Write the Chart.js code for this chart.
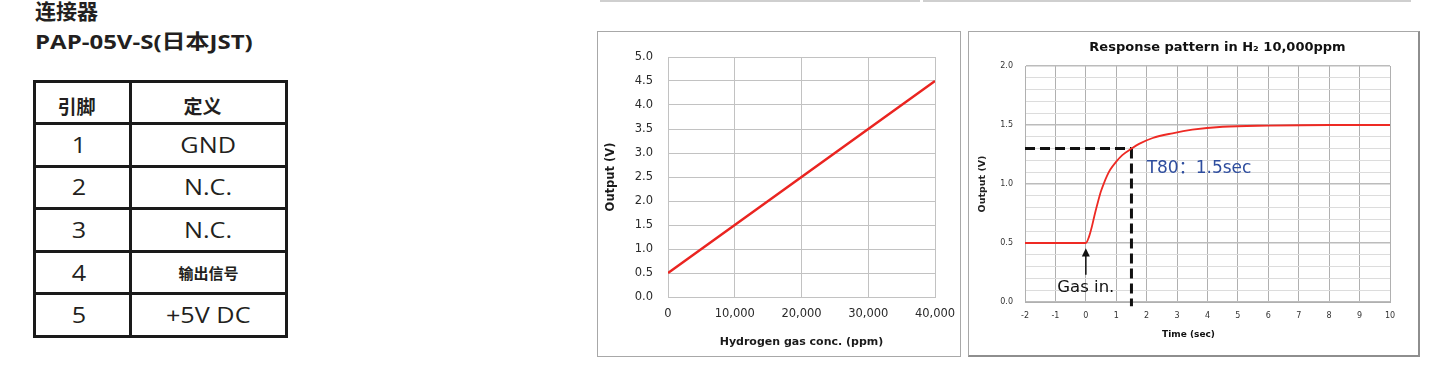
<!DOCTYPE html>
<html>
<head>
<meta charset="utf-8">
<script src="https://cdn.jsdelivr.net/npm/chart.js@4"></script>
<style>
body { margin:0; width:1434px; height:367px; background:#fff; position:relative; overflow:hidden;
       font-family:"Open Sans","Noto Sans CJK SC",sans-serif; color:#231f20; }
.abs { position:absolute; }
.head { left:35px; font-size:21px; font-weight:bold; line-height:26px; white-space:nowrap; transform-origin:0 50%; }
table.pins { position:absolute; left:33px; top:80px; border-collapse:collapse; table-layout:fixed; }
.pins td { border:3px solid #1a1a1a; text-align:center; height:39.6px; padding:0; font-size:21px; line-height:24px; }
.pins tr.top td { font-weight:bold; font-size:19px; padding-top:6px; height:33px; font-family:"Noto Sans CJK SC"; }
.pins td.small { font-weight:bold; font-size:15px; font-family:"Noto Sans CJK SC"; }
.wide { display:inline-block; transform:scaleX(1.2); }
.box { position:absolute; border:1px solid #a8a8a8; background:#fff; }
canvas { position:absolute; }
</style>
</head>
<body>
<div class="abs head" style="top:-3px;font-family:'Noto Sans CJK SC'">连接器</div>
<div class="abs head" style="top:29px;font-size:20px;transform:scaleX(1.2)">PAP-05V-S(日本JST)</div>

<table class="pins">
  <col style="width:96px"><col style="width:156px">
  <tr class="top"><td style="padding-right:12px">引脚</td><td style="padding-right:12px">定义</td></tr>
  <tr><td style="padding-right:6px"><span class="wide">1</span></td><td><span class="wide">GND</span></td></tr>
  <tr><td style="padding-right:6px"><span class="wide">2</span></td><td><span class="wide">N.C.</span></td></tr>
  <tr><td style="padding-right:6px"><span class="wide">3</span></td><td><span class="wide">N.C.</span></td></tr>
  <tr><td style="padding-right:6px"><span class="wide">4</span></td><td class="small">输出信号</td></tr>
  <tr><td style="padding-right:6px"><span class="wide">5</span></td><td><span class="wide">+5V DC</span></td></tr>
</table>

<div class="abs" style="left:600px;top:0;width:320px;height:2px;background:#cfcfcf"></div>
<div class="abs" style="left:923px;top:0;width:488px;height:2px;background:#cfcfcf"></div>

<div class="box" style="left:597px;top:31px;width:362px;height:324px"></div>
<canvas id="linear" width="362" height="324" style="left:598px;top:32px"></canvas>

<div class="box" style="left:968px;top:31px;width:449px;height:323px;border-right:2px solid #8e8e8e;border-bottom:2px solid #8e8e8e"></div>
<canvas id="response" width="448" height="323" style="left:969px;top:32px"></canvas>

<script>
// output vs. hydrogen concentration
var conc_ppm = [0, 10000, 20000, 30000, 40000];
var output_v = [0.5, 1.5, 2.5, 3.5, 4.5];
var conc_ticks = [0, 10000, 20000, 30000, 40000];
var volt_ticks = [0, 0.5, 1, 1.5, 2, 2.5, 3, 3.5, 4, 4.5, 5];

// response in H2 10,000ppm
var time_sec = [-2, -1, 0, 0.1, 0.2, 0.3, 0.4, 0.5, 0.6, 0.7, 0.8, 1.0, 1.2, 1.5, 1.75, 2.2, 2.85, 3.5, 4.5, 6, 8, 10];
var resp_v   = [0.5, 0.5, 0.5, 0.55, 0.64, 0.75, 0.85, 0.94, 1.01, 1.07, 1.12, 1.19, 1.245, 1.3, 1.34, 1.39, 1.43, 1.46, 1.485, 1.495, 1.5, 1.5];
var time_ticks = [-2, -1, 0, 1, 2, 3, 4, 5, 6, 7, 8, 9, 10];
var resp_ticks = [0, 0.1, 0.2, 0.3, 0.4, 0.5, 0.6, 0.7, 0.8, 0.9, 1.0, 1.1, 1.2, 1.3, 1.4, 1.5, 1.6, 1.7, 1.8, 1.9, 2.0];
var t80_sec = 1.5;
var t80_v = 1.3;
var gas_in_sec = 0;

function set_ticks(list) {
    return function (s) { s.ticks = list.map(v => ({value: v})); };
}
// fixed axis box, no extra room for overhanging labels
function fix_size(w, h) {
    return function (s) {
        if (w) s.width = w;
        if (h) s.height = h;
        s.paddingLeft = s.paddingRight = 0;
        s.paddingTop = s.paddingBottom = 0;
    };
}
function commas(v) {
    return String(v).replace(/\B(?=(\d{3})+(?!\d))/g, ',');
}

var tick_font = 'DejaVu Sans';

new Chart(document.getElementById('linear'), {
    type: 'line',
    data: {
        datasets: [{
            data: conc_ppm.map((c, i) => ({x: c, y: output_v[i]})),
            borderColor: '#ea2420',
            borderWidth: 2.5,
            pointRadius: 0
        }]
    },
    options: {
        responsive: false,
        animation: false,
        devicePixelRatio: 1,
        layout: { padding: { top: 25, right: 25 } },
        plugins: { legend: { display: false }, tooltip: { enabled: false } },
        scales: {
            x: {
                type: 'linear', min: 0, max: 40000,
                afterBuildTicks: set_ticks(conc_ticks),
                afterFit: fix_size(0, 59),
                grid: { color: '#c2c2c2', drawTicks: false },
                border: { color: '#c2c2c2' },
                ticks: { padding: 10, color: '#2a2a2a', maxRotation: 0, autoSkip: false,
                         font: { family: tick_font, size: 11.5 }, callback: v => commas(v) },
                title: { display: true, text: 'Hydrogen gas conc. (ppm)', color: '#1a1a1a',
                         font: { family: tick_font, size: 11, weight: 'bold' }, padding: { bottom: 7 } }
            },
            y: {
                min: 0, max: 5,
                afterBuildTicks: set_ticks(volt_ticks),
                afterFit: fix_size(70, 0),
                grid: { color: '#c2c2c2', drawTicks: false },
                border: { color: '#c2c2c2' },
                ticks: { padding: 15, color: '#2a2a2a', autoSkip: false,
                         font: { family: tick_font, size: 11.5 }, callback: v => v.toFixed(1) },
                title: { display: true, text: 'Output (V)', color: '#1a1a1a',
                         font: { family: tick_font, size: 11.5, weight: 'bold' }, padding: { top: 6 } }
            }
        }
    }
});

var notes = {
    id: 'notes',
    afterDatasetsDraw(chart) {
        var c = chart.ctx, x = chart.scales.x, y = chart.scales.y, a = chart.chartArea;
        c.save();
        c.fillStyle = '#111';
        c.textAlign = 'center';
        c.textBaseline = 'middle';
        c.font = 'bold 13px "DejaVu Sans"';
        c.fillText('Response pattern in H\u2082 10,000ppm', (a.left + a.right) / 2 + 10, 16);
        c.font = 'bold 9px "DejaVu Sans"';
        c.fillText('Time (sec)', (a.left + a.right) / 2 - 19, a.bottom + 33);

        // gas in arrow
        var ax = x.getPixelForValue(gas_in_sec);
        c.strokeStyle = '#111';
        c.lineWidth = 1.5;
        c.beginPath();
        c.moveTo(ax, y.getPixelForValue(0.23));
        c.lineTo(ax, y.getPixelForValue(0.4));
        c.stroke();
        c.beginPath();
        c.moveTo(ax, y.getPixelForValue(0.455));
        c.lineTo(ax - 4, y.getPixelForValue(0.385));
        c.lineTo(ax + 4, y.getPixelForValue(0.385));
        c.closePath();
        c.fill();
        c.font = '16.5px "DejaVu Sans"';
        c.fillText('Gas in.', ax, y.getPixelForValue(0.12));

        c.fillStyle = '#2e4d9e';
        c.textAlign = 'left';
        c.font = '17px "DejaVu Sans", "Noto Sans CJK SC"';
        c.fillText('T80\uff1a' + t80_sec + 'sec', x.getPixelForValue(2.0), y.getPixelForValue(1.13));
        c.restore();
    }
};

function major(v) { return Math.abs(v * 2 - Math.round(v * 2)) < 1e-6; }

new Chart(document.getElementById('response'), {
    type: 'line',
    data: {
        datasets: [{
            data: time_sec.map((t, i) => ({x: t, y: resp_v[i]})),
            borderColor: '#ee2a24',
            borderWidth: 1.8,
            pointRadius: 0,
            cubicInterpolationMode: 'monotone'
        }, {
            data: [{x: -2, y: t80_v}, {x: t80_sec, y: t80_v}],
            borderColor: '#111', borderWidth: 3, borderDash: [10, 5], pointRadius: 0, clip: false
        }, {
            data: [{x: t80_sec, y: t80_v}, {x: t80_sec, y: -0.035}],
            borderColor: '#111', borderWidth: 3, borderDash: [10, 5], pointRadius: 0, clip: false
        }]
    },
    options: {
        responsive: false,
        animation: false,
        devicePixelRatio: 1,
        layout: { padding: { top: 34, right: 27 } },
        plugins: { legend: { display: false }, tooltip: { enabled: false } },
        scales: {
            x: {
                type: 'linear', min: -2, max: 10,
                afterBuildTicks: set_ticks(time_ticks),
                afterFit: fix_size(0, 53),
                grid: { color: '#b0b0b0', drawTicks: false },
                border: { color: '#b0b0b0' },
                ticks: { padding: 9, color: '#333', maxRotation: 0, autoSkip: false,
                         font: { family: tick_font, size: 8 }, callback: v => String(v) }
            },
            y: {
                min: 0, max: 2,
                afterBuildTicks: set_ticks(resp_ticks),
                afterFit: fix_size(56, 0),
                grid: { drawTicks: false,
                        color: ctx => major(ctx.tick.value) ? '#bcbcbc' : '#dcdcdc',
                        lineWidth: ctx => major(ctx.tick.value) ? 1.5 : 1 },
                border: { color: '#b0b0b0' },
                ticks: { padding: 12, color: '#333', autoSkip: false,
                         font: { family: tick_font, size: 8 },
                         callback: v => major(v) ? v.toFixed(1) : '' },
                title: { display: true, text: 'Output (V)', color: '#222',
                         font: { family: tick_font, size: 9.5, weight: 'bold' }, padding: { top: 8 } }
            }
        }
    },
    plugins: [notes]
});
</script>
</body>
</html>
